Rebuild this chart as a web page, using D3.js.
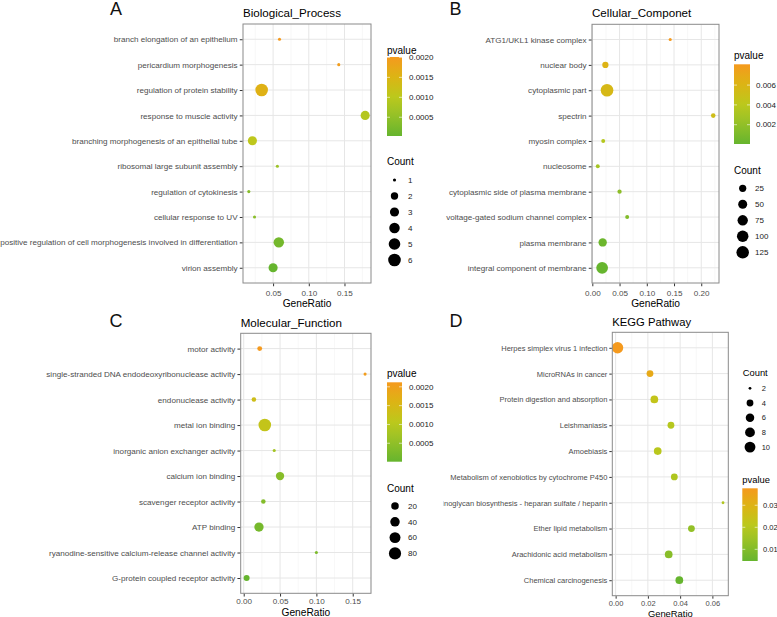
<!DOCTYPE html>
<html><head><meta charset="utf-8">
<script src="https://cdn.jsdelivr.net/npm/d3@7"></script>
<style>
body{margin:0;background:#fff}
svg{display:block}
text{font-family:"Liberation Sans",Arial,Helvetica,sans-serif}
</style>
</head><body>
<svg id="chart" width="777" height="617"></svg>
<script>
// ---------------- DATA ----------------
const bpTerms = ["branch elongation of an epithelium","pericardium morphogenesis","regulation of protein stability","response to muscle activity","branching morphogenesis of an epithelial tube","ribosomal large subunit assembly","regulation of cytokinesis","cellular response to UV","positive regulation of cell morphogenesis involved in differentiation","virion assembly"];
const bpRatio = [0.059, 0.142, 0.034, 0.179, 0.021, 0.056, 0.016, 0.024, 0.058, 0.050];
const bpCount = [1, 1, 6, 3, 3, 1, 1, 1, 4, 3];
const bpPvalue = [0.00201, 0.00196, 0.00158, 0.00092, 0.00105, 0.00062, 0.00038, 0.00042, 0.00018, 0.00003];
const bpXTicks = [0.05, 0.10, 0.15];
const bpPBreaks = [0.0005, 0.0010, 0.0015, 0.0020];
const bpCountBreaks = [1, 2, 3, 4, 5, 6];

const ccTerms = ["ATG1/UKL1 kinase complex","nuclear body","cytoplasmic part","spectrin","myosin complex","nucleosome","cytoplasmic side of plasma membrane","voltage-gated sodium channel complex","plasma membrane","integral component of membrane"];
const ccRatio = [0.143, 0.024, 0.027, 0.222, 0.020, 0.010, 0.050, 0.064, 0.019, 0.018];
const ccCount = [1, 15, 128, 4, 2, 2, 3, 2, 40, 105];
const ccPvalue = [0.0081, 0.0062, 0.0057, 0.0052, 0.0037, 0.0029, 0.0018, 0.0013, 0.0003, 0.00005];
const ccXTicks = [0.00, 0.05, 0.10, 0.15, 0.20];
const ccPBreaks = [0.002, 0.004, 0.006];
const ccCountBreaks = [25, 50, 75, 100, 125];

const mfTerms = ["motor activity","single-stranded DNA endodeoxyribonuclease activity","endonuclease activity","metal ion binding","inorganic anion exchanger activity","calcium ion binding","scavenger receptor activity","ATP binding","ryanodine-sensitive calcium-release channel activity","G-protein coupled receptor activity"];
const mfRatio = [0.022, 0.167, 0.014, 0.029, 0.042, 0.050, 0.027, 0.021, 0.100, 0.004];
const mfCount = [4, 1, 3, 88, 1, 27, 3, 38, 1, 9];
const mfPvalue = [0.00212, 0.00205, 0.00135, 0.00118, 0.00075, 0.00040, 0.00035, 0.00020, 0.00028, 0.00001];
const mfXTicks = [0.00, 0.05, 0.10, 0.15];
const mfPBreaks = [0.0005, 0.0010, 0.0015, 0.0020];
const mfCountBreaks = [20, 40, 60, 80];

const kgTerms = ["Herpes simplex virus 1 infection","MicroRNAs in cancer","Protein digestion and absorption","Leishmaniasis","Amoebiasis","Metabolism of xenobiotics by cytochrome P450","Glycosaminoglycan biosynthesis - heparan sulfate / heparin","Ether lipid metabolism","Arachidonic acid metabolism","Chemical carcinogenesis"];
const kgRatio = [0.0012, 0.0213, 0.0240, 0.0343, 0.0261, 0.0364, 0.0666, 0.0470, 0.0329, 0.0395];
const kgCount = [11, 4, 5, 4, 5, 4, 2, 4, 5, 5];
const kgPvalue = [0.0377, 0.0330, 0.0230, 0.0200, 0.0205, 0.0185, 0.0190, 0.0130, 0.0110, 0.0047];
const kgXTicks = [0.00, 0.02, 0.04, 0.06];
const kgPBreaks = [0.01, 0.02, 0.03];
const kgCountBreaks = [2, 4, 6, 8, 10];

// ---------------- SETUP ----------------
const svg = d3.select("#chart");
const FONT = '"Liberation Sans",Arial,Helvetica,sans-serif';
const colorStops = ["#66B52E", "#9CC226", "#BCC81C", "#DCB414", "#F59A1E"];

const panels = [
  {letter:"A", title:"Biological_Process", terms:bpTerms, ratio:bpRatio, count:bpCount, pvalue:bpPvalue,
   xTicks:bpXTicks, pBreaks:bpPBreaks, countBreaks:bpCountBreaks, countLimits:[1,6], fmtX:d3.format(".2f"), fmtP:d3.format(".4f"),
   L:243, R:371, T:24, B:283, s:1, fs:1, titleY:16.5, letterX:116, letterY:15, tickY:295.5, xTitleY:306.5,
   pv:{x:387, w:15, titleY:54, top:57, bottom:136, labelX:409},
   cnt:{x:387, titleY:165, firstY:180, step:16, cx:394.5, labelX:408}},
  {letter:"B", title:"Cellular_Componet", terms:ccTerms, ratio:ccRatio, count:ccCount, pvalue:ccPvalue,
   xTicks:ccXTicks, pBreaks:ccPBreaks, countBreaks:ccCountBreaks, countLimits:[1,128], fmtX:d3.format(".2f"), fmtP:d3.format(".3f"),
   L:592, R:719, T:24.3, B:283, s:1, fs:1, titleY:16.5, letterX:455.5, letterY:14.5, tickY:295.5, xTitleY:306.5,
   pv:{x:734, w:16, titleY:58.5, top:64.3, bottom:144, labelX:756},
   cnt:{x:734, titleY:174, firstY:188.3, step:16, cx:742.7, labelX:755}},
  {letter:"C", title:"Molecular_Function", terms:mfTerms, ratio:mfRatio, count:mfCount, pvalue:mfPvalue,
   xTicks:mfXTicks, pBreaks:mfPBreaks, countBreaks:mfCountBreaks, countLimits:[1,88], fmtX:d3.format(".2f"), fmtP:d3.format(".4f"),
   L:240.7, R:371, T:333.3, B:593.3, s:1, fs:1, titleY:326.5, letterX:116, letterY:327, tickY:604.5, xTitleY:616,
   pv:{x:387, w:15, titleY:376.5, top:382.3, bottom:461.7, labelX:409},
   cnt:{x:387, titleY:491.5, firstY:506, step:15.8, cx:395, labelX:408}},
  {letter:"D", title:"KEGG Pathway", terms:kgTerms, ratio:kgRatio, count:kgCount, pvalue:kgPvalue,
   xTicks:kgXTicks, pBreaks:kgPBreaks, countBreaks:kgCountBreaks, countLimits:[2,11], fmtX:d3.format(".2f"), fmtP:d3.format(".2f"),
   L:612.3, R:728.3, T:332.3, B:595.7, s:0.9, fs:0.93, titleY:326, letterX:456, letterY:327, tickY:606.5, xTitleY:616.5,
   pv:{x:742.3, w:15.4, titleY:483, top:488.3, bottom:561, labelX:763},
   cnt:{x:742.7, titleY:376, firstY:388.3, step:14.7, cx:750, labelX:761.7}, clipX:443.5}
];

const defs = svg.append("defs");

panels.forEach((p, pi) => {
  const g = svg.append("g");
  if (p.clipX !== undefined) {
    defs.append("clipPath").attr("id", "clip" + pi)
      .append("rect").attr("x", p.clipX).attr("y", 300).attr("width", 777 - p.clipX).attr("height", 317);
    g.attr("clip-path", `url(#clip${pi})`);
  }
  const s = p.s, fs = p.fs;
  const data = p.terms.map((t, i) => ({term:t, ratio:p.ratio[i], count:p.count[i], pvalue:p.pvalue[i]}));

  // x scale with ggplot 5% expansion
  const [xmin, xmax] = d3.extent(p.ratio);
  const pad = (xmax - xmin) * 0.05;
  const x = d3.scaleLinear().domain([xmin - pad, xmax + pad]).range([p.L, p.R]);
  const y = d3.scalePoint().domain(p.terms).range([p.T, p.B]).padding(0.6);

  // color scale
  const [pmin, pmax] = d3.extent(p.pvalue);
  const color = d3.scaleLinear()
    .domain(colorStops.map((c, i) => pmin + (pmax - pmin) * [0, 0.3, 0.5, 0.75, 1][i]))
    .range(colorStops).clamp(true);

  // size scale (area-based like ggplot scale_size, range 1..6)
  const sizeScale = d3.scaleLinear().domain([0, 1]).range([1, 6]);
  const radius = d3.scaleLinear().domain([0, 6]).range([0.6 * s, 6.3 * s]);
  const rOf = c => radius(sizeScale(Math.sqrt(Math.max(0, (c - p.countLimits[0]) / (p.countLimits[1] - p.countLimits[0])))));

  g.append("rect").attr("x", p.L).attr("y", p.T).attr("width", p.R - p.L).attr("height", p.B - p.T).attr("fill", "#fff");

  // minor grid
  const step = p.xTicks[1] - p.xTicks[0];
  const minor = [];
  for (let v = p.xTicks[0] - step / 2; v <= p.xTicks[p.xTicks.length - 1] + step / 2 + 1e-9; v += step) {
    if (v >= x.domain()[0] && v <= x.domain()[1]) minor.push(v);
  }
  g.append("g").selectAll("line").data(minor).join("line")
    .attr("x1", d => x(d)).attr("x2", d => x(d)).attr("y1", p.T).attr("y2", p.B)
    .attr("stroke", "#F2F2F2").attr("stroke-width", 0.6);
  g.append("g").selectAll("line").data(p.xTicks).join("line")
    .attr("x1", d => x(d)).attr("x2", d => x(d)).attr("y1", p.T).attr("y2", p.B)
    .attr("stroke", "#E6E6E6").attr("stroke-width", 1);
  g.append("g").selectAll("line").data(p.terms).join("line")
    .attr("x1", p.L).attr("x2", p.R).attr("y1", d => y(d)).attr("y2", d => y(d))
    .attr("stroke", "#E6E6E6").attr("stroke-width", 1);

  // points
  g.append("g").selectAll("circle").data(data).join("circle")
    .attr("cx", d => x(d.ratio)).attr("cy", d => y(d.term)).attr("r", d => rOf(d.count))
    .attr("fill", d => color(d.pvalue));

  // border
  g.append("rect").attr("x", p.L).attr("y", p.T).attr("width", p.R - p.L).attr("height", p.B - p.T)
    .attr("fill", "none").attr("stroke", "#8A8A8A").attr("stroke-width", 1);

  // y axis
  const yAxis = d3.axisLeft(y).tickSize(2.75 * s).tickPadding(2.2 * s);
  const ya = g.append("g").attr("transform", `translate(${p.L - 0.5},0)`).call(yAxis);
  ya.select(".domain").remove();
  ya.selectAll("line").attr("stroke", "#333");
  ya.selectAll("text").attr("font-size", 8.1 * fs).attr("fill", "#4D4D4D").attr("font-family", FONT);

  // x axis
  const xAxis = d3.axisBottom(x).tickValues(p.xTicks).tickFormat(p.fmtX).tickSize(2.75 * s).tickPadding(2 * s);
  const xa = g.append("g").attr("transform", `translate(0,${p.B + 0.5})`).call(xAxis);
  xa.select(".domain").remove();
  xa.selectAll("line").attr("stroke", "#333");
  xa.selectAll("text").attr("font-size", 8.1 * fs).attr("fill", "#4D4D4D").attr("font-family", FONT)
    .attr("dy", null).attr("y", p.tickY - p.B - 0.5);

  g.append("text").attr("x", (p.L + p.R) / 2).attr("y", p.xTitleY).attr("text-anchor", "middle")
    .attr("font-size", 10.2 * (fs === 1 ? 1 : 0.92)).attr("fill", "#000").text("GeneRatio");

  g.append("text").attr("x", p.L).attr("y", p.titleY).attr("font-size", 11.6 * (fs === 1 ? 1 : 0.97))
    .attr("fill", "#000").text(p.title);

  g.append("text").attr("x", p.letterX).attr("y", p.letterY).attr("text-anchor", "middle")
    .attr("font-family", '"Liberation Serif","Times New Roman",serif').attr("font-size", 18)
    .attr("fill", "#111").text(p.letter);

  // ---- pvalue colorbar ----
  const pv = p.pv;
  const gradId = "grad" + pi;
  const grad = defs.append("linearGradient").attr("id", gradId).attr("x1", 0).attr("y1", 1).attr("x2", 0).attr("y2", 0);
  d3.range(0, 1.0001, 0.05).forEach(t => {
    grad.append("stop").attr("offset", t).attr("stop-color", color(pmin + (pmax - pmin) * t));
  });
  g.append("text").attr("x", pv.x).attr("y", pv.titleY).attr("font-size", 10 * (fs === 1 ? 1 : 0.94)).attr("fill", "#000").text("pvalue");
  g.append("rect").attr("x", pv.x).attr("y", pv.top).attr("width", pv.w).attr("height", pv.bottom - pv.top)
    .attr("fill", `url(#${gradId})`);
  const py = d3.scaleLinear().domain([pmin, pmax]).range([pv.bottom, pv.top]);
  const pb = g.append("g");
  p.pBreaks.forEach(b => {
    const yy = py(b);
    pb.append("line").attr("x1", pv.x).attr("x2", pv.x + 3).attr("y1", yy).attr("y2", yy).attr("stroke", "#fff").attr("stroke-width", 0.6);
    pb.append("line").attr("x1", pv.x + pv.w - 3).attr("x2", pv.x + pv.w).attr("y1", yy).attr("y2", yy).attr("stroke", "#fff").attr("stroke-width", 0.6);
    pb.append("text").attr("x", pv.labelX).attr("y", yy).attr("dy", "0.35em").attr("font-size", 8 * (fs === 1 ? 1 : 0.94))
      .attr("fill", "#1a1a1a").text(p.fmtP(b));
  });

  // ---- count legend ----
  const cn = p.cnt;
  g.append("text").attr("x", cn.x).attr("y", cn.titleY).attr("font-size", 10 * (fs === 1 ? 1 : 0.94)).attr("fill", "#000").text("Count");
  const cg = g.append("g");
  p.countBreaks.forEach((b, i) => {
    const yy = cn.firstY + i * cn.step;
    cg.append("circle").attr("cx", cn.cx).attr("cy", yy).attr("r", rOf(b)).attr("fill", "#000");
    cg.append("text").attr("x", cn.labelX).attr("y", yy).attr("dy", "0.35em").attr("font-size", 8 * (fs === 1 ? 1 : 0.94))
      .attr("fill", "#1a1a1a").text(b);
  });
});
</script>
</body></html>
